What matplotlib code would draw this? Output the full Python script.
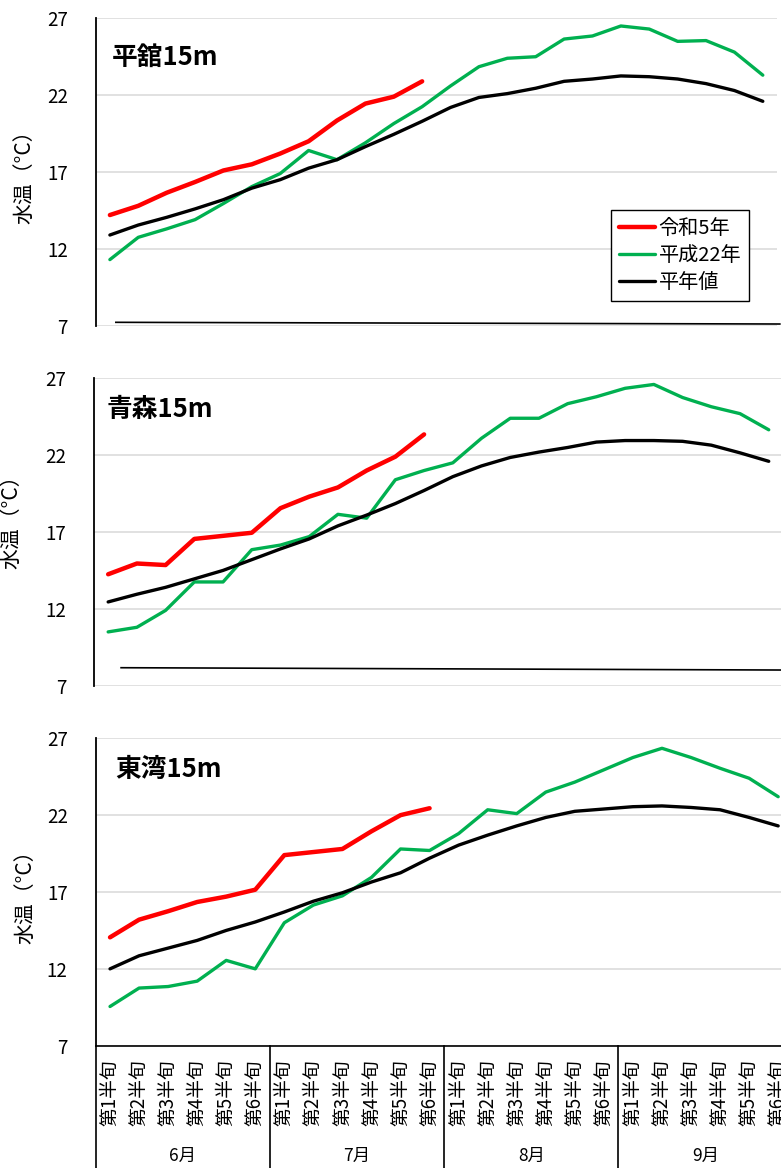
import matplotlib
matplotlib.use("Agg")
import matplotlib.pyplot as plt
import matplotlib.transforms as mtransforms

plt.rcParams['font.family'] = ['Noto Sans CJK JP', 'DejaVu Sans']

# ---- data -------------------------------------------------------------
periods = ['第1半旬', '第2半旬', '第3半旬', '第4半旬', '第5半旬', '第6半旬'] * 4
months = ['6月', '7月', '8月', '9月']
stations = ['平舘15m', '青森15m', '東湾15m']
series_names = ['令和5年', '平成22年', '平年値']
yticks = [7, 12, 17, 22, 27]

# 平舘 15m
tairadate_r5 = [14.2, 14.8, 15.65, 16.35, 17.1, 17.5, 18.2, 19.0, 20.35, 21.45, 21.9, 22.9]
tairadate_h22 = [11.3, 12.75, 13.3, 13.9, 14.95, 16.05, 16.9, 18.4, 17.8, 18.9, 20.15, 21.25,
                 22.6, 23.85, 24.4, 24.5, 25.65, 25.85, 26.5, 26.3, 25.5, 25.55, 24.8, 23.3]
tairadate_normal = [12.9, 13.55, 14.05, 14.6, 15.2, 15.95, 16.5, 17.25, 17.8, 18.65, 19.45, 20.3,
                    21.2, 21.85, 22.1, 22.45, 22.9, 23.05, 23.25, 23.2, 23.05, 22.75, 22.3, 21.6]

# 青森 15m
aomori_r5 = [14.25, 14.95, 14.85, 16.55, 16.75, 16.95, 18.55, 19.3, 19.9, 21.0, 21.9, 23.35]
aomori_h22 = [10.5, 10.8, 11.9, 13.75, 13.75, 15.85, 16.15, 16.7, 18.15, 17.9, 20.4, 21.0,
              21.5, 23.1, 24.4, 24.4, 25.35, 25.8, 26.35, 26.6, 25.75, 25.15, 24.7, 23.65]
aomori_normal = [12.45, 12.95, 13.4, 13.95, 14.5, 15.2, 15.9, 16.55, 17.4, 18.1, 18.85, 19.7,
                 20.6, 21.3, 21.85, 22.2, 22.5, 22.85, 22.95, 22.95, 22.9, 22.65, 22.15, 21.6]

# 東湾 15m
towan_r5 = [14.05, 15.2, 15.75, 16.35, 16.7, 17.15, 19.4, 19.6, 19.8, 20.95, 22.0, 22.45]
towan_h22 = [9.55, 10.75, 10.85, 11.2, 12.55, 12.0, 15.0, 16.15, 16.75, 17.95, 19.8, 19.7,
             20.8, 22.35, 22.1, 23.5, 24.15, 24.95, 25.75, 26.35, 25.75, 25.05, 24.4, 23.2]
towan_normal = [12.0, 12.85, 13.35, 13.85, 14.5, 15.05, 15.7, 16.4, 16.95, 17.65, 18.25, 19.2,
                20.05, 20.7, 21.3, 21.85, 22.25, 22.4, 22.55, 22.6, 22.5, 22.35, 21.85, 21.3]

panel_series = [
    (tairadate_r5, tairadate_h22, tairadate_normal),
    (aomori_r5, aomori_h22, aomori_normal),
    (towan_r5, towan_h22, towan_normal),
]

# ---- style ------------------------------------------------------------
colors = ['#FF0000', '#00B050', '#000000']
widths = [3.2, 2.4, 2.4]
grid_color = '#D9D9D9'

W, H = 781, 1168
fig = plt.figure(figsize=(W / 100, H / 100), dpi=100)


def px_rect(left, top, right, bottom):
    return [left / W, 1 - bottom / H, (right - left) / W, (bottom - top) / H]


rects = [
    px_rect(95.7, 18.3, 777.0, 325.7),
    px_rect(93.8, 378.3, 783.1, 685.7),
    px_rect(95.5, 738.3, 792.7, 1045.7),
]
title_pos = [(0.024, 0.874), (0.019, 0.897), (0.028, 0.897)]
ylabel_pos = [(-0.104, 0.5), (-0.119, 0.549), (-0.101, 0.5)]
# thin category-axis rule drawn inside the upper two panels: (x0, y0, x1, y1)
baseline_rules = [(0.21, 7.22, 23.6, 7.11), (0.45, 8.17, 23.44, 8.02), None]

x = list(range(len(periods)))

for k, (rect, series) in enumerate(zip(rects, panel_series)):
    ax = fig.add_axes(rect)
    for vals, name, c, lw in zip(series, series_names, colors, widths):
        ax.plot(x[:len(vals)], vals, color=c, lw=lw, label=name,
                solid_capstyle='round', solid_joinstyle='round', zorder=3)

    ax.set_xlim(-0.5, len(periods) - 0.5)
    ax.set_ylim(yticks[0], yticks[-1])
    ax.set_yticks(yticks)
    ax.yaxis.grid(True, color=grid_color, lw=1.1, zorder=0)
    ax.set_axisbelow(True)
    ax.tick_params(axis='y', length=0, pad=20, labelsize=13.5)
    for s in ['top', 'right']:
        ax.spines[s].set_visible(False)
    ax.spines['left'].set_color('black')
    ax.spines['left'].set_linewidth(1.3)

    ax.text(*title_pos[k], stations[k], transform=ax.transAxes,
            fontsize=18.5, fontweight='bold', ha='left', va='center')
    ax.text(*ylabel_pos[k], '水温（°C）', transform=ax.transAxes,
            fontsize=15, rotation=90, ha='center', va='center')

    rule = baseline_rules[k]
    if rule is not None:
        ax.spines['bottom'].set_visible(False)
        ax.set_xticks([])
        ax.plot([rule[0], rule[2]], [rule[1], rule[3]], color='black',
                lw=1.2, clip_on=False, zorder=2)
    else:
        ax.spines['bottom'].set_color('black')
        ax.spines['bottom'].set_linewidth(1.2)
        ax.set_xticks(x)
        ax.set_xticklabels(periods, rotation=90, ha='center', va='top', fontsize=13.5)
        ax.tick_params(axis='x', length=0, pad=10)
        trans = mtransforms.blended_transform_factory(ax.transData, ax.transAxes)
        for m in range(len(months) + 1):
            xb = m * 6 - 0.5
            ax.plot([xb, xb], [0, -0.45], color='black', lw=1.2,
                    transform=trans, clip_on=False)
        for m, name in enumerate(months):
            ax.text(m * 6 + 2.5, -0.359, name, transform=trans,
                    ha='center', va='center', fontsize=12.5)

    if k == 0:
        leg = ax.legend(loc='upper left', bbox_to_anchor=(0.757, 0.376),
                        fontsize=14.5, frameon=True, fancybox=False,
                        edgecolor='black', framealpha=1, handlelength=1.75,
                        handletextpad=0.2, labelspacing=0.3, borderpad=0.4,
                        borderaxespad=0)
        leg.get_frame().set_linewidth(1.0)

fig.savefig('out.png', dpi=100)
